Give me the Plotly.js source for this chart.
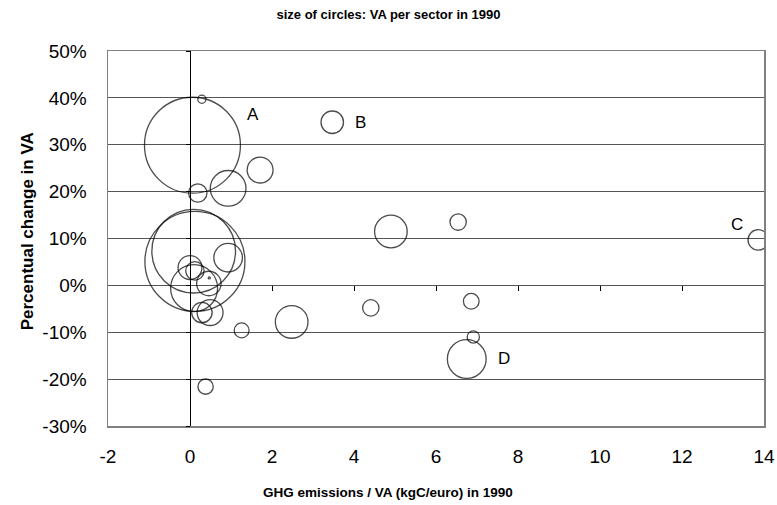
<!DOCTYPE html>
<html>
<head>
<meta charset="utf-8">
<script src="https://cdn.plot.ly/plotly-3.0.1.min.js"></script>
<style>html,body{margin:0;padding:0;background:#fff;}#chart{width:777px;height:505px;}</style>
</head>
<body>
<div id="chart"></div>
<script>
// GHG emissions / VA (kgC/euro) in 1990
var ghgIntensity = [0.29, 0.06, 0.19, 0.93, 1.71, 3.47, 4.90, 6.54, 13.86, 4.41, 6.86, 6.91, 6.75, 2.48, 1.26, 0.38, 0.12, 0.09, 0.93, 0.00, 0.12, 0.10, 0.46, 0.47, 0.29, 0.49];
// Percentual change in VA
var vaChange = [0.397, 0.299, 0.197, 0.207, 0.246, 0.348, 0.115, 0.135, 0.097, -0.048, -0.034, -0.110, -0.157, -0.078, -0.096, -0.216, 0.051, 0.073, 0.059, 0.038, 0.031, -0.006, 0.004, 0.016, -0.058, -0.058];
// VA per sector in 1990 (circle area)
var vaSize = [1.6, 221, 8.1, 30.6, 16.1, 12.1, 25.6, 6.4, 10, 6.4, 5.9, 3.6, 36.1, 25.6, 5.3, 5.6, 240, 168, 19.6, 13.7, 8.1, 52.9, 14.4, 0.1, 10, 16.1];
// labelled sectors
var labelNames = ['A', 'B', 'C', 'D'];
var labelIndex = [1, 5, 8, 12];
var labelShiftX = [61, 28, -21, 37];
var labelShiftY = [31, 0, 15, 0];

var yTickVals = [-0.3, -0.2, -0.1, 0, 0.1, 0.2, 0.3, 0.4, 0.5];
var yTickText = ['-30%', '-20%', '-10%', '0%', '10%', '20%', '30%', '40%', '50%'];
var xTickVals = [-2, 0, 2, 4, 6, 8, 10, 12, 14];
var xTickText = ['-2', '0', '2', '4', '6', '8', '10', '12', '14'];

var tickFont = {family: '"Liberation Sans", Arial, sans-serif', size: 19, color: '#000'};
var boldFont = {family: '"Liberation Sans", Arial, sans-serif', size: 13, color: '#000'};

var traces = [
  {
    type: 'scatter', mode: 'markers',
    x: ghgIntensity, y: vaChange,
    marker: {size: vaSize, sizemode: 'area', sizeref: 0.048, sizemin: 0,
             color: 'rgba(0,0,0,0)', line: {color: '#000', width: 1.3}},
    hoverinfo: 'x+y', showlegend: false
  },
  {type: 'scatter', x: [], y: [], xaxis: 'x2', yaxis: 'y2', showlegend: false, hoverinfo: 'skip'}
];

var annotations = [];
for (var i = 0; i < labelNames.length; i++) {
  annotations.push({
    x: ghgIntensity[labelIndex[i]], y: vaChange[labelIndex[i]],
    xref: 'x', yref: 'y', text: labelNames[i], showarrow: false,
    xshift: labelShiftX[i], yshift: labelShiftY[i],
    font: {family: '"Liberation Sans", Arial, sans-serif', size: 17, color: '#000'}
  });
}
annotations.push({
  xref: 'paper', yref: 'paper', x: 0.4268, y: -0.176, xanchor: 'center', yanchor: 'middle',
  text: '<b>GHG emissions / VA (kgC/euro) in 1990</b>', showarrow: false,
  font: {family: '"Liberation Sans", Arial, sans-serif', size: 13.5, color: '#000'}
});
annotations.push({
  xref: 'paper', yref: 'paper', x: -0.123, y: 0.52, xanchor: 'center', yanchor: 'middle',
  text: '<b>Percentual change in VA</b>', textangle: -90, showarrow: false,
  font: {family: '"Liberation Sans", Arial, sans-serif', size: 17, color: '#000'}
});

var layout = {
  width: 777, height: 505,
  margin: {l: 108, r: 13, t: 51, b: 79},
  paper_bgcolor: '#fff', plot_bgcolor: '#fff',
  title: {text: '<b>size of circles: VA per sector in 1990</b>', xref: 'container', x: 0.5, xanchor: 'center',
          yref: 'container', y: 0.972, yanchor: 'middle', font: boldFont},
  xaxis: {range: [-2, 14], tickvals: xTickVals, ticktext: xTickText, showgrid: false,
          zeroline: true, zerolinecolor: '#000', zerolinewidth: 1,
          showline: true, mirror: true, linecolor: '#808080', linewidth: 1.5,
          ticks: '', tickfont: tickFont, ticklabelstandoff: 13, fixedrange: true},
  yaxis: {range: [-0.3, 0.5], tickvals: yTickVals, ticktext: yTickText,
          showgrid: true, gridcolor: '#555', gridwidth: 1, zeroline: false,
          showline: true, mirror: true, linecolor: '#808080', linewidth: 1.5,
          ticks: 'outside', ticklen: 16, tickcolor: 'rgba(0,0,0,0)', tickfont: tickFont, fixedrange: true},
  xaxis2: {range: [-2, 14], overlaying: 'x', anchor: 'free', position: 0.375, side: 'bottom',
           tickvals: [2, 4, 6, 8, 10, 12], ticks: 'outside', ticklen: 5, tickcolor: '#000',
           showticklabels: false, showgrid: false, zeroline: false, showline: false, fixedrange: true},
  yaxis2: {range: [-0.3, 0.5], overlaying: 'y', anchor: 'free', position: 0.125, side: 'left',
           tickvals: yTickVals, ticks: 'outside', ticklen: 4, tickcolor: '#000',
           showticklabels: false, showgrid: false, zeroline: false, showline: false, fixedrange: true},
  annotations: annotations,
  showlegend: false
};

Plotly.newPlot('chart', traces, layout, {displayModeBar: false, staticPlot: true});
</script>
</body>
</html>
